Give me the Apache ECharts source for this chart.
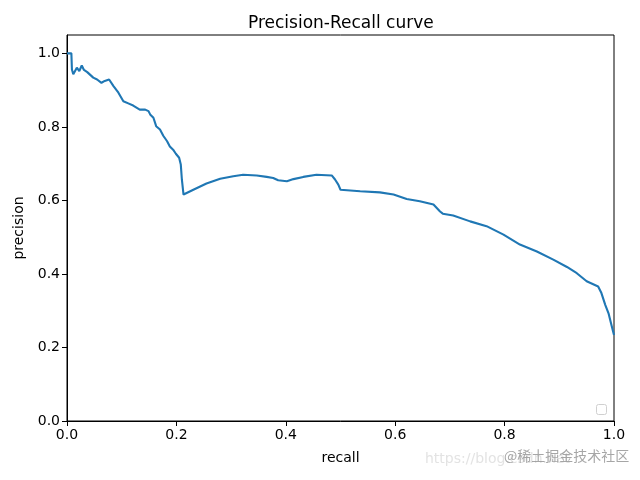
<!DOCTYPE html>
<html>
<head>
<meta charset="utf-8">
<script src="https://cdn.jsdelivr.net/npm/echarts@6/dist/echarts.min.js"></script>
<style>html,body{margin:0;padding:0;background:#fff;}#c{width:640px;height:480px;}</style>
</head>
<body>
<div id="c"></div>
<script>
const recall = [0.000, 0.008, 0.009, 0.0115, 0.018, 0.0225, 0.027, 0.031, 0.037, 0.048, 0.055, 0.063, 0.069, 0.077, 0.085, 0.094, 0.103, 0.112, 0.121, 0.133, 0.143, 0.149, 0.152, 0.158, 0.163, 0.170, 0.176, 0.183, 0.188, 0.194, 0.199, 0.205, 0.208, 0.210, 0.213, 0.231, 0.255, 0.280, 0.304, 0.322, 0.347, 0.365, 0.377, 0.386, 0.402, 0.414, 0.432, 0.456, 0.484, 0.490, 0.496, 0.500, 0.536, 0.572, 0.597, 0.621, 0.645, 0.670, 0.682, 0.687, 0.706, 0.737, 0.767, 0.798, 0.828, 0.859, 0.889, 0.914, 0.932, 0.950, 0.971, 0.977, 0.984, 0.990, 0.996, 1.000];
const precision = [1.000, 1.000, 0.956, 0.943, 0.961, 0.952, 0.967, 0.955, 0.949, 0.934, 0.929, 0.920, 0.925, 0.929, 0.911, 0.893, 0.870, 0.864, 0.858, 0.847, 0.847, 0.843, 0.834, 0.825, 0.802, 0.793, 0.776, 0.761, 0.747, 0.738, 0.727, 0.716, 0.698, 0.657, 0.616, 0.629, 0.646, 0.659, 0.666, 0.670, 0.668, 0.664, 0.661, 0.655, 0.652, 0.658, 0.664, 0.670, 0.668, 0.657, 0.643, 0.629, 0.625, 0.622, 0.616, 0.604, 0.598, 0.589, 0.570, 0.564, 0.559, 0.543, 0.530, 0.507, 0.480, 0.461, 0.439, 0.419, 0.402, 0.380, 0.366, 0.348, 0.316, 0.293, 0.257, 0.234];
const xTicks = [0.0, 0.2, 0.4, 0.6, 0.8, 1.0];
const yTicks = [0.0, 0.2, 0.4, 0.6, 0.8, 1.0];

const chart = echarts.init(document.getElementById('c'), null, {renderer: 'canvas'});
const font = 'DejaVu Sans';
const pts = recall.map((r, i) => [r, precision[i]]);
chart.setOption({
  animation: false,
  backgroundColor: '#fff',
  title: {
    text: 'Precision-Recall curve',
    left: 243, top: 10,
    textStyle: {fontFamily: font, fontSize: 17, fontWeight: 'normal', color: '#000'}
  },
  grid: {left: 67, right: 26, top: 35, bottom: 59, show: true, borderColor: '#000', borderWidth: 1, backgroundColor: 'transparent'},
  xAxis: {
    type: 'value', min: 0, max: 1,
    name: 'recall', nameLocation: 'middle', nameGap: 30,
    nameTextStyle: {fontFamily: font, fontSize: 14, color: '#000'},
    axisLine: {show: true, onZero: false, lineStyle: {color: '#000', width: 1}},
    axisTick: {show: true, inside: false, length: 5, lineStyle: {color: '#000'}, customValues: xTicks},
    axisLabel: {fontFamily: font, fontSize: 14, color: '#000', margin: 7, customValues: xTicks, formatter: v => v.toFixed(1)},
    splitLine: {show: false}
  },
  yAxis: {
    type: 'value', min: 0, max: 1.05,
    name: 'precision', nameLocation: 'middle', nameGap: 31, nameRotate: 90,
    nameTextStyle: {fontFamily: font, fontSize: 14, color: '#000'},
    axisLine: {show: true, onZero: false, lineStyle: {color: '#000', width: 1}},
    axisTick: {show: true, inside: false, length: 5, lineStyle: {color: '#000'}, customValues: yTicks},
    axisLabel: {fontFamily: font, fontSize: 14, color: '#000', margin: 7, customValues: yTicks, formatter: v => v.toFixed(1)},
    splitLine: {show: false}
  },
  series: [{
    type: 'line', data: pts, showSymbol: false, symbol: 'none',
    lineStyle: {color: '#1f77b4', width: 2.1}, clip: true
  }],
  graphic: [
    {type: 'rect', left: 596, top: 404, shape: {width: 10, height: 10, r: 2}, style: {fill: '#fff', stroke: '#d0d0d0', lineWidth: 1}},
    {type: 'text', left: 425, top: 452, style: {text: 'https://blog.csdn.net', fill: 'rgba(200,200,200,0.5)', font: '14px "DejaVu Sans"'}},
    {type: 'text', left: 504, top: 449, style: {text: '@稀土掘金技术社区', fill: 'rgba(150,150,150,0.85)', font: '14px "Noto Sans CJK SC"'}}
  ]
});
</script>
</body>
</html>
